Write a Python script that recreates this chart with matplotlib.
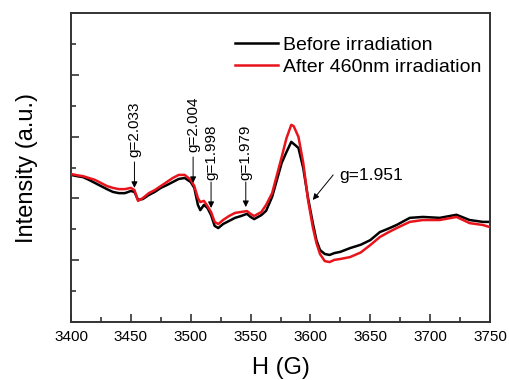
import matplotlib
matplotlib.use("Agg")
import matplotlib.pyplot as plt
from matplotlib.ticker import MultipleLocator

plt.rcParams['font.family'] = ['Liberation Sans', 'DejaVu Sans']

# Black curve: before irradiation
h_before = [3400, 3405, 3410, 3415, 3420, 3425, 3430, 3435, 3440, 3445, 3450, 3453, 3456,
            3460, 3465, 3470, 3475, 3480, 3485, 3490, 3495, 3500, 3503, 3506, 3508, 3511,
            3514, 3517, 3520, 3523, 3527, 3532, 3537, 3542, 3547, 3550, 3553, 3559, 3563,
            3568, 3576, 3580, 3584, 3588, 3590, 3594, 3598, 3602, 3605, 3608, 3612, 3616,
            3620, 3625, 3633, 3642, 3650, 3658, 3665, 3672, 3683, 3694, 3708, 3715, 3722,
            3733, 3744, 3750]
i_before = [4.76, 4.72, 4.69, 4.60, 4.50, 4.40, 4.30, 4.21, 4.17, 4.17, 4.24, 4.21, 3.95,
            3.98, 4.11, 4.21, 4.34, 4.43, 4.53, 4.63, 4.66, 4.53, 4.34, 3.79, 3.62, 3.79,
            3.69, 3.46, 3.11, 3.04, 3.17, 3.27, 3.37, 3.43, 3.50, 3.40, 3.33, 3.46, 3.60,
            4.05, 5.15, 5.50, 5.83, 5.70, 5.63, 4.98, 4.01, 3.20, 2.65, 2.33, 2.20, 2.17,
            2.23, 2.27, 2.39, 2.50, 2.65, 2.91, 3.02, 3.14, 3.37, 3.40, 3.37, 3.42, 3.47,
            3.30, 3.24, 3.24]

# Red curve: after 460nm irradiation
h_after = [3400, 3405, 3410, 3415, 3420, 3425, 3430, 3435, 3440, 3445, 3450, 3453, 3456,
           3460, 3465, 3470, 3475, 3480, 3485, 3490, 3495, 3500, 3503, 3506, 3508, 3511,
           3514, 3517, 3520, 3523, 3527, 3532, 3537, 3542, 3547, 3550, 3553, 3559, 3563,
           3568, 3576, 3580, 3584, 3586, 3590, 3594, 3598, 3602, 3605, 3608, 3612, 3616,
           3620, 3625, 3633, 3642, 3650, 3658, 3665, 3672, 3683, 3694, 3708, 3715, 3722,
           3733, 3744, 3750]
i_after = [4.79, 4.75, 4.72, 4.66, 4.60, 4.50, 4.40, 4.34, 4.30, 4.30, 4.34, 4.27, 3.92,
           4.01, 4.17, 4.27, 4.40, 4.53, 4.66, 4.76, 4.76, 4.60, 4.40, 4.01, 3.88, 3.92,
           3.75, 3.56, 3.24, 3.17, 3.30, 3.43, 3.53, 3.56, 3.59, 3.50, 3.43, 3.56, 3.79,
           4.17, 5.34, 5.95, 6.38, 6.34, 5.99, 5.15, 3.95, 3.07, 2.56, 2.20, 1.97, 1.94,
           2.01, 2.04, 2.10, 2.25, 2.49, 2.75, 2.90, 3.04, 3.24, 3.30, 3.30, 3.35, 3.40,
           3.20, 3.14, 3.07]

labels = ["Before irradiation", "After 460nm irradiation"]

# g-value annotations: label, text x, text bottom y, arrow start y, arrow tip y
g_labels = ["g=2.033", "g=2.004", "g=1.998", "g=1.979"]
g_x = [3453, 3502, 3517, 3546]
g_text_y = [5.34, 5.50, 4.60, 4.60]
g_arrow_from = [5.18, 5.34, 4.53, 4.53]
g_arrow_to = [4.34, 4.50, 3.69, 3.72]

fig = plt.figure(figsize=(5.09, 3.80), dpi=100)
ax = fig.add_axes([71/509, 58/380, 419/509, 309/380])

ax.plot(h_before, i_before, color='black', lw=1.8, label=labels[0], zorder=2)
ax.plot(h_after, i_after, color='#e8141c', lw=1.8, label=labels[1], zorder=3)

ax.set_xlim(3400, 3750)
ax.set_ylim(0, 10)
ax.xaxis.set_major_locator(MultipleLocator(50))
ax.xaxis.set_minor_locator(MultipleLocator(25))
ax.yaxis.set_major_locator(MultipleLocator(2))
ax.yaxis.set_minor_locator(MultipleLocator(1))
ax.tick_params(axis='both', which='major', direction='in', length=6, width=1.2,
               color='#333333', labelsize=11, pad=6)
ax.tick_params(axis='both', which='minor', direction='in', length=3.5, width=1.2,
               color='#333333')
ax.tick_params(axis='y', which='both', labelleft=False)
ax.tick_params(top=False, right=False, which='both')
for s in ax.spines.values():
    s.set_color('#333333')
    s.set_linewidth(1.4)

for lab, x, ty, a0, a1 in zip(g_labels, g_x, g_text_y, g_arrow_from, g_arrow_to):
    ax.text(x, ty, lab, rotation=90, ha='center', va='bottom', fontsize=11)
    ax.annotate('', xy=(x, a1), xytext=(x, a0),
                arrowprops=dict(arrowstyle='-|>', color='black', lw=0.7,
                                mutation_scale=9, shrinkA=0, shrinkB=0))

ax.text(3624, 4.75, "g=1.951", ha='left', va='center', fontsize=12.5)
ax.annotate('', xy=(3602, 3.95), xytext=(3619, 4.76),
            arrowprops=dict(arrowstyle='-|>', color='black', lw=0.7,
                            mutation_scale=9, shrinkA=0, shrinkB=0))

leg = ax.legend(loc='upper left', bbox_to_anchor=(0.391, 0.925), frameon=False,
                fontsize=14, handlelength=2.2, handletextpad=0.3, labelspacing=0.25,
                borderpad=0, borderaxespad=0)

fig.text(27/509, 1 - 168/380, "Intensity (a.u.)", rotation=90, ha='center', va='center',
         fontsize=17)
fig.text(281/509, 1 - 368/380, "H (G)", ha='center', va='center', fontsize=17)

fig.savefig("out.png", dpi=100)
